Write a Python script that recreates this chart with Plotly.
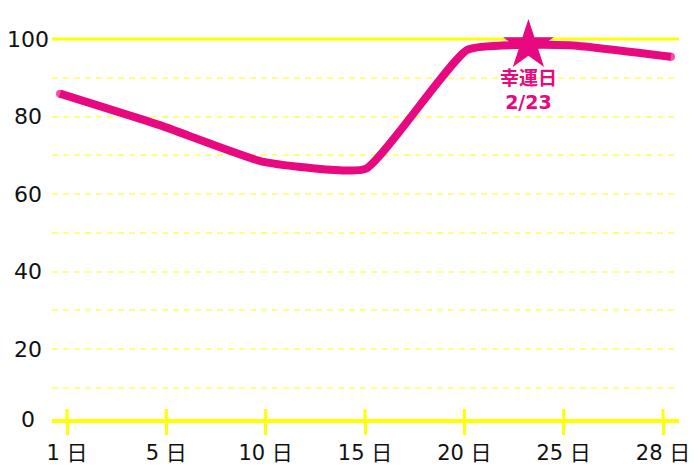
import numpy as np
import plotly.graph_objects as go

# データ
days = [1, 5, 10, 15, 20, 25, 28]
values = [85.9, 77.6, 68.3, 66.5, 97.2, 98.4, 95.4]
lucky_day = 23
lucky_value = 98.3
lucky_text = "幸運日<br>2/23"
y_labels = [0, 20, 40, 60, 80, 100]
grid_vals = [10, 20, 30, 40, 50, 60, 70, 80, 90]
tick_text = [f"{d} 日" for d in days]

PINK = "#e8087f"
YELLOW = "#ffff00"
GRID = "#ffff80"
FONT = "DejaVu Sans, Noto Sans CJK JP"

idx = list(range(len(days)))
lucky_x = float(np.interp(lucky_day, days, idx))
y_min = 2  # 目盛りの0は下端の線に置く

# ページのbody余白(8px)のぶん小さめに作る
W, H = 692, 459
L, R, T, B = 44, 21, 31, 48
plot_h = H - T - B
plot_w = W - L - R

fig = go.Figure()

# 折れ線（端は丸く見せるため両端だけ点を付ける）
cap = [8 if i in (0, len(idx) - 1) else 0 for i in idx]
fig.add_trace(go.Scatter(
    x=idx, y=values, xaxis="x2", mode="lines+markers",
    line=dict(color=PINK, width=8, shape="spline", smoothing=0.4),
    marker=dict(size=cap, color=PINK, line=dict(width=0)),
    hoverinfo="skip", cliponaxis=False
))

# 幸運日の星
fig.add_trace(go.Scatter(
    x=[lucky_x], y=[lucky_value], xaxis="x2", mode="markers+text",
    marker=dict(symbol="star", size=38, color=PINK),
    text=[lucky_text], textposition="bottom center",
    textfont=dict(color=PINK, size=19, family=FONT, weight="bold"),
    cliponaxis=False
))

fig.update_layout(
    width=W, height=H,
    margin=dict(l=L, r=R, t=T, b=B),
    paper_bgcolor="white", plot_bgcolor="white",
    showlegend=False,
    font=dict(family=FONT, color="#111111"),
    xaxis=dict(
        range=[-0.151, 6.161], tickvals=idx, ticktext=tick_text,
        showgrid=False, zeroline=False, automargin=False,
        showline=True, linecolor=YELLOW, linewidth=4,
        ticks="outside", ticklen=12, tickwidth=3, tickcolor=YELLOW,
        tickfont=dict(size=21, color="#111111", family=FONT),
    ),
    xaxis2=dict(overlaying="x", range=[-0.0786, 6.0786], visible=False),
    yaxis=dict(
        range=[y_min, 100], tickvals=grid_vals, showticklabels=False,
        showgrid=True, gridcolor=GRID, gridwidth=2, griddash="6px,5px",
        zeroline=False, automargin=False,
    ),
)

# 上端の100の線
fig.add_shape(type="line", xref="paper", yref="paper", x0=0, x1=1, y0=1, y1=1,
              line=dict(color=YELLOW, width=3), layer="below")

# 目盛り線の上側部分
for i in idx:
    fig.add_shape(type="line", xref="x", yref="paper", x0=i, x1=i, y0=0, y1=10 / plot_h,
                  line=dict(color=YELLOW, width=3))

# y軸ラベル（中央揃え）
for v in y_labels:
    fig.add_annotation(x=-24 / plot_w, xref="paper", y=max(v, y_min), yref="y",
                       text=str(v), showarrow=False, xanchor="center", yanchor="middle",
                       font=dict(size=22, color="#111111", family=FONT))

fig.write_html("out.html")
